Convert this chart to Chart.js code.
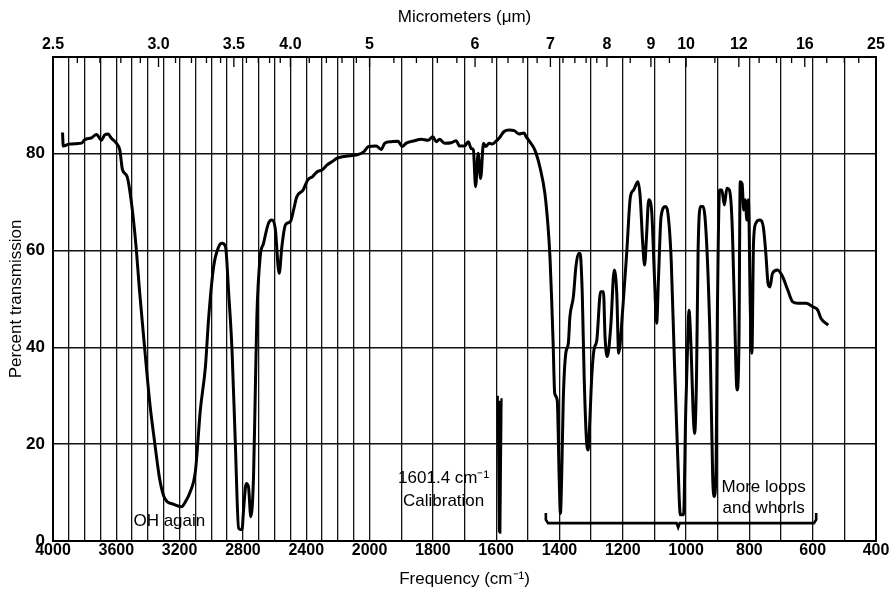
<!DOCTYPE html>
<html>
<head>
<meta charset="utf-8">
<script src="https://cdn.jsdelivr.net/npm/chart.js@4.4.1/dist/chart.umd.min.js"></script>
<style>
  html, body { margin: 0; padding: 0; background: #fff; }
</style>
</head>
<body>
<canvas id="spectrum" width="891" height="590"></canvas>
<script>
// spectrum (cm-1, % transmission)
const wavenumber = [
  3940, 3935, 3900, 3850, 3820, 3800, 3757, 3725, 3694, 3673, 3652, 3631, 3600, 3578, 3561, 3532,
  3504, 3477, 3452, 3420, 3388, 3357, 3325, 3294, 3241, 3188, 3160, 3136, 3100, 3069, 3037, 3016,
  2985, 2953, 2932, 2910, 2890, 2869, 2848, 2827, 2806, 2796, 2779, 2765, 2750, 2733, 2722, 2712,
  2691, 2670, 2639, 2617, 2596, 2571, 2554, 2532, 2500, 2480, 2460, 2420, 2390, 2360, 2330, 2299,
  2268, 2236, 2204, 2151, 2078, 2037, 2006, 1979, 1963, 1952, 1931, 1910, 1897, 1884, 1858, 1837,
  1815, 1800, 1789, 1779, 1763, 1742, 1726, 1716, 1700, 1688, 1679, 1672, 1665, 1657, 1649, 1640,
  1633, 1622, 1612, 1602, 1591, 1575, 1559, 1543, 1528, 1512, 1505, 1494, 1478, 1462, 1446, 1436,
  1430, 1425, 1420, 1415, 1407, 1401, 1397, 1393, 1388, 1380, 1372, 1367, 1356, 1348, 1340, 1335,
  1328, 1322, 1314, 1309, 1304, 1298, 1291, 1282, 1270, 1261, 1256, 1249, 1238, 1227, 1219, 1213,
  1200, 1187, 1176, 1166, 1152, 1145, 1137, 1131, 1125, 1118, 1109, 1100, 1093, 1087, 1079, 1065,
  1058, 1047, 1037, 1026, 1018, 1008, 1001, 995, 991, 984, 978, 973, 967, 962, 954, 946,
  935, 924, 916, 911, 905, 901, 894, 887, 879, 871, 863, 855, 848, 839, 833, 829,
  823, 818, 813, 808, 803, 797, 792, 787, 780, 767, 756, 748, 741, 735, 727, 711,
  695, 679, 663, 647, 621, 600, 584, 574, 551
];
const transmission = [
  84.4, 81.6, 82.0, 82.1, 82.2, 82.9, 83.3, 84.0, 82.8, 83.9, 84.1, 83.2, 82.2, 80.8, 76.7, 75.3,
  69.8, 61.5, 51.2, 39.5, 28.4, 20.2, 12.6, 8.8, 7.6, 7.1, 8.3, 9.9, 14.5, 27.1, 36.0, 46.3,
  56.7, 60.8, 61.5, 60.8, 51.2, 39.5, 20.2, 2.6, 2.3, 6.4, 11.9, 11.2, 5.0, 13.3, 30.5, 46.3,
  58.7, 61.5, 65.6, 66.3, 64.6, 55.3, 60.8, 65.3, 66.0, 68.4, 71.1, 72.5, 74.6, 75.3, 76.3, 76.7,
  77.7, 78.4, 79.1, 79.5, 79.8, 80.4, 81.5, 81.6, 80.9, 82.2, 82.5, 82.6, 81.5, 82.2, 82.7, 83.0,
  82.8, 83.5, 82.5, 83.0, 82.2, 82.3, 82.7, 81.6, 81.6, 82.5, 81.1, 80.8, 73.2, 80.1, 74.9, 82.2,
  81.5, 82.2, 82.0, 82.5, 83.2, 84.6, 84.9, 84.8, 84.1, 84.3, 83.5, 82.5, 80.8, 77.3, 71.8, 64.9,
  58.7, 50.5, 40.8, 30.5, 29.1, 13.3, 5.7, 13.3, 29.1, 38.8, 40.8, 46.3, 50.5, 56.7, 59.4, 59.4,
  51.2, 34.0, 20.2, 18.8, 25.0, 34.0, 39.5, 41.5, 51.5, 51.5, 42.2, 38.1, 44.3, 56.0, 51.2, 38.8,
  48.0, 60.1, 71.1, 72.5, 74.2, 71.1, 61.5, 57.0, 62.9, 70.5, 68.4, 54.6, 45.0, 54.6, 67.0, 69.1,
  68.0, 58.1, 37.4, 16.7, 5.4, 5.4, 27.1, 40.8, 47.7, 39.5, 27.1, 22.2, 34.0, 60.1, 69.1, 69.1,
  61.5, 40.8, 13.3, 9.2, 16.7, 47.7, 72.5, 72.5, 69.4, 72.9, 72.5, 66.3, 50.5, 31.2, 40.8, 74.2,
  73.8, 68.4, 70.5, 66.3, 70.5, 47.7, 38.8, 61.5, 65.6, 66.3, 64.9, 59.4, 53.2, 52.5, 55.3, 56.0,
  54.6, 51.9, 49.4, 49.1, 49.1, 48.4, 47.7, 46.0, 44.6
];

// polystyrene calibration stroke near 1601.4
const calX = [1595, 1591, 1589, 1587, 1583];
const calY = [30, 2, 29, 1.5, 29.5];

// "more loops and whorls" brace
const braceX = [1443, 1443, 1436, 1030, 1025, 1020, 596, 589, 589];
const braceY = [5.8, 4.4, 3.7, 3.7, 2.8, 3.7, 3.7, 4.4, 5.8];

const freqLabels = [4000, 3600, 3200, 2800, 2400, 2000, 1800, 1600, 1400, 1200, 1000, 800, 600, 400];
const micronLabels = ['2.5', '3.0', '3.5', '4.0', '5', '6', '7', '8', '9', '10', '12', '16', '25'];
const micronMinor = [
  2.6, 2.7, 2.8, 2.9, 3.1, 3.2, 3.3, 3.4, 3.6, 3.7, 3.8, 3.9, 4.2, 4.4, 4.6, 4.8,
  5.2, 5.4, 5.6, 5.8, 6.2, 6.4, 6.6, 6.8, 7.2, 7.4, 7.6, 7.8, 8.5, 9.5, 11, 13, 14, 15, 18, 20, 22
];
const percentTicks = [0, 20, 40, 60, 80, 100];

// grid every 100 cm-1
const gridFreqs = [];
for (let v = 4000; v >= 400; v -= 100) gridFreqs.push(v);

// chart paper changes scale at 2000 cm-1 (double spread below)
function toUnits(v) { return v >= 2000 ? (4000 - v) / 400 : 5 + (2000 - v) / 200; }
function fromUnits(u) { return u <= 5 ? 4000 - u * 400 : 2000 - (u - 5) * 200; }

class WavenumberScale extends Chart.LinearScale {
  static id = 'wavenumber';
  getPixelForValue(value) {
    return this.getPixelForDecimal(toUnits(value) / 13);
  }
  getValueForPixel(pixel) {
    return fromUnits(this.getDecimalForPixel(pixel) * 13);
  }
}
Chart.register(WavenumberScale);

const FONT = '"Liberation Sans", Arial, Helvetica, sans-serif';
Chart.defaults.font.family = FONT;
Chart.defaults.color = '#000';

const paperPlugin = {
  id: 'paper',
  afterDatasetsDraw(chart) {
    const { ctx, chartArea: a, scales } = chart;
    ctx.save();
    ctx.strokeStyle = '#000';
    ctx.lineWidth = 2;
    ctx.strokeRect(a.left, a.top, a.right - a.left, a.bottom - a.top);

    // micrometer tick marks hanging from the top edge
    ctx.lineWidth = 1.3;
    micronLabels.forEach(m => {
      const px = scales.micron.getPixelForValue(10000 / parseFloat(m));
      ctx.beginPath(); ctx.moveTo(px, a.top); ctx.lineTo(px, a.top + 10); ctx.stroke();
    });
    micronMinor.forEach(m => {
      const px = scales.micron.getPixelForValue(10000 / m);
      ctx.beginPath(); ctx.moveTo(px, a.top); ctx.lineTo(px, a.top + 6); ctx.stroke();
    });

    // notes
    const x = scales.x, y = scales.y;
    ctx.fillStyle = '#000';
    ctx.font = '17px ' + FONT;
    ctx.textAlign = 'center';
    ctx.textBaseline = 'middle';
    ctx.fillText('OH again', x.getPixelForValue(3265), y.getPixelForValue(4.0));
    ctx.fillText('1601.4 cm\u207B\u00B9', x.getPixelForValue(1766), y.getPixelForValue(13.0));
    ctx.fillText('Calibration', x.getPixelForValue(1766), y.getPixelForValue(8.1));
    ctx.fillText('More loops', x.getPixelForValue(755), y.getPixelForValue(11.0));
    ctx.fillText('and whorls', x.getPixelForValue(755), y.getPixelForValue(6.8));
    ctx.restore();
  }
};

const toPoints = (xs, ys) => xs.map((v, i) => ({ x: v, y: ys[i] }));

new Chart(document.getElementById('spectrum'), {
  type: 'line',
  plugins: [paperPlugin],
  data: {
    datasets: [
      {
        data: toPoints(wavenumber, transmission),
        borderColor: '#000',
        borderWidth: 3,
        pointRadius: 0,
        cubicInterpolationMode: 'monotone',
        xAxisID: 'x', yAxisID: 'y'
      },
      {
        data: toPoints(calX, calY),
        borderColor: '#000',
        borderWidth: 2.2,
        pointRadius: 0,
        tension: 0,
        xAxisID: 'x', yAxisID: 'y'
      },
      {
        data: toPoints(braceX, braceY),
        borderColor: '#000',
        borderWidth: 2.6,
        pointRadius: 0,
        tension: 0,
        xAxisID: 'x', yAxisID: 'y'
      }
    ]
  },
  options: {
    responsive: false,
    animation: false,
    events: [],
    layout: { padding: { left: 0, right: 15, top: 0, bottom: 0 } },
    plugins: { legend: { display: false }, tooltip: { enabled: false } },
    scales: {
      x: {
        type: 'wavenumber',
        position: 'bottom',
        min: 400, max: 4000,
        afterBuildTicks: s => { s.ticks = gridFreqs.map(v => ({ value: v })); },
        afterFit: s => { s.height = 49; },
        grid: { color: '#111', lineWidth: 1.3, drawTicks: false },
        border: { display: false },
        ticks: {
          autoSkip: false, maxRotation: 0, padding: 0,
          font: { size: 16, weight: 'bold' },
          callback: v => freqLabels.includes(v) ? String(v) : ''
        },
        title: {
          display: true, text: 'Frequency (cm\u207B\u00B9)',
          font: { size: 17 }, padding: { top: 0, bottom: 0 }
        }
      },
      micron: {
        type: 'wavenumber',
        position: 'top',
        min: 400, max: 4000,
        afterBuildTicks: s => { s.ticks = micronLabels.map(m => ({ value: 10000 / parseFloat(m) })); },
        afterFit: s => { s.height = 57; },
        grid: { display: false, drawTicks: false },
        border: { display: false },
        ticks: {
          autoSkip: false, maxRotation: 0, padding: 3,
          font: { size: 16, weight: 'bold' },
          callback: (v, i) => micronLabels[i]
        },
        title: {
          display: true, text: 'Micrometers (\u03BCm)',
          font: { size: 17 }, padding: { top: 7, bottom: 0 }
        }
      },
      y: {
        min: 0, max: 100,
        afterBuildTicks: s => { s.ticks = percentTicks.map(v => ({ value: v })); },
        afterFit: s => { s.width = 53; },
        grid: { color: '#111', lineWidth: 1.5, drawTicks: false },
        border: { display: false },
        ticks: {
          padding: 8,
          font: { size: 17, weight: 'bold' },
          callback: v => v === 100 ? '' : String(v)
        },
        title: {
          display: true, text: 'Percent transmission',
          font: { size: 17 }, padding: { top: 6, bottom: 0 }
        }
      }
    }
  }
});
</script>
</body>
</html>
